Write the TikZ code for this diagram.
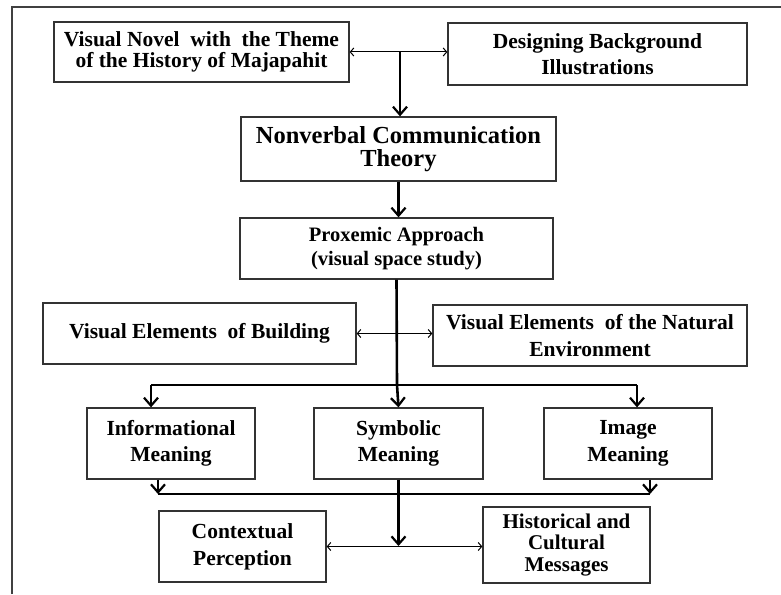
\documentclass[tikz,border=0pt]{standalone}
\usepackage{fontspec}
\setmainfont{Liberation Serif}
\usetikzlibrary{arrows.meta}
\tikzset{
  box/.style={draw=black!80, line width=1.3pt, minimum width=#1, align=center, inner sep=0pt, font=\fontsize{21.5}{21.5}\selectfont\bfseries},
  lsp/.style={font=\fontsize{21.5}{#1}\selectfont\bfseries},
  thk/.style={line width=2.6pt, -{Straight Barb[length=8pt,width=14pt,line width=2.2pt]}},
  thkline/.style={line width=2.6pt},
  thn/.style={line width=1pt, {Straight Barb[length=3.5pt,width=8pt]}-{Straight Barb[length=3.5pt,width=8pt]}},
}
\begin{document}
\begin{tikzpicture}[x=1pt,y=-1pt]
\useasboundingbox (0,0) rectangle (781,594);
\draw[black!75, line width=1.5pt] (12,594) -- (12,7) -- (781,7);
% boxes
\node[box=295pt, minimum height=60pt, lsp=21] (vn) at (201.5,52) {Visual Novel\ \ with\ \ the Theme\\ of the\ History\ of Majapahit};
\node[box=299pt, minimum height=62pt, lsp=26] (db) at (597.5,54) {Designing Background\\Illustrations};
\node[box=315pt, minimum height=64pt, font=\fontsize{24.5}{23.5}\selectfont\bfseries] (nv) at (398.5,149) {Nonverbal Communication\\Theory};
\node[box=313pt, minimum height=61pt, font=\fontsize{20.5}{24}\selectfont\bfseries] (px) at (396.5,248.5) {Proxemic Approach\\(visual space study)};
\node[box=313pt, minimum height=61pt] (bu) at (199.5,333.5) {Visual Elements\ \ of Building};
\node[box=314pt, minimum height=61pt, lsp=27] (na) at (590,335.5) {Visual Elements\ \ of the Natural\\Environment};
\node[box=168pt, minimum height=71pt, lsp=26.5] (inf) at (171,443.5) {Informational\\Meaning};
\node[box=169pt, minimum height=71pt, lsp=26.5] (sy) at (398.5,443.5) {Symbolic\\Meaning};
\node[box=168pt, minimum height=71pt, lsp=26.5] (img) at (628,443.5) {Image\\Meaning};
\node[box=167pt, minimum height=71pt, lsp=27] (cp) at (242.5,546.5) {Contextual\\Perception};
\node[box=167pt, minimum height=76pt, font=\fontsize{21}{21.5}\selectfont\bfseries] (hc) at (566.5,545) {Historical and\\Cultural\\Messages};
% coordinates
\coordinate (j1) at (400,52);
\coordinate (bM) at (397,385);
\coordinate (bL) at (151,385);
\coordinate (bR) at (637,385);
\coordinate (cL) at (158,494);
\coordinate (cR) at (650,494);
\coordinate (j3) at (398.5,546);
% connectors
\draw[thn] (vn.east) -- (vn.east -| db.west);
\draw[thk] (j1) -- (j1 |- nv.north);
\draw[thk] (nv.south) -- (nv.south |- px.north);
\draw[thkline] (px.south) -- (bM);
\draw[thn] (bu.east) -- (bu.east -| na.west);
\draw[thkline] (bL) -- (bR);
\draw[thk] (bL) -- (bL |- inf.north);
\draw[thk] (bM) -- (sy.north);
\draw[thk] (bR) -- (bR |- img.north);
\draw[thk] (cL |- inf.south) -- (cL);
\draw[thk] (cR |- img.south) -- (cR);
\draw[thkline] (cL) -- (cR);
\draw[thk] (sy.south) -- (j3);
\draw[thn] (cp.east) -- (cp.east -| hc.west);
\end{tikzpicture}
\end{document}
